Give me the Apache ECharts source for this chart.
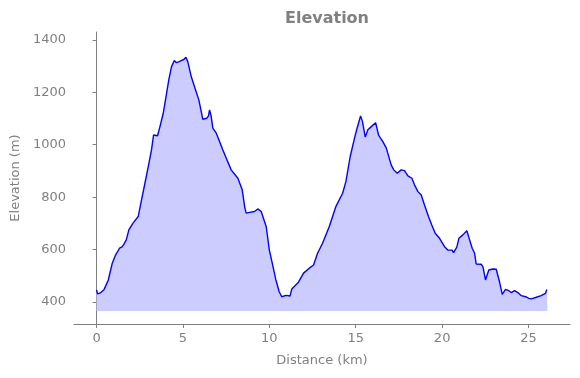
<!DOCTYPE html>
<html>
<head>
<meta charset="utf-8">
<script src="https://cdn.jsdelivr.net/npm/echarts@6/dist/echarts.min.js"></script>
<style>
  html, body { margin: 0; padding: 0; background: #fff; }
  #elev { width: 580px; height: 378px; }
</style>
</head>
<body>
<div id="elev"></div>
<script>
  // 距离 (km)
  const distance = [
    0.00, 0.06, 0.25, 0.44, 0.68, 0.91, 1.10, 1.33, 1.45, 1.56, 1.72, 1.87, 2.10, 2.41, 2.60, 2.80,
    3.03, 3.18, 3.30, 3.53, 3.67, 3.86, 3.99, 4.18, 4.34, 4.50, 4.62, 4.75, 4.90, 5.05, 5.17, 5.28,
    5.48, 5.73, 5.92, 6.15, 6.38, 6.48, 6.54, 6.63, 6.73, 6.93, 7.31, 7.79, 8.18, 8.43, 8.58, 8.66,
    8.85, 9.14, 9.33, 9.53, 9.82, 10.00, 10.13, 10.38, 10.57, 10.72, 10.96, 11.20, 11.30, 11.40, 11.67,
    11.98, 12.31, 12.56, 12.79, 13.08, 13.47, 13.85, 14.24, 14.43, 14.68, 14.95, 15.06, 15.16, 15.28,
    15.39, 15.55, 15.70, 15.90, 16.01, 16.15, 16.32, 16.57, 16.77, 17.05, 17.20, 17.40, 17.63, 17.82,
    18.02, 18.25, 18.40, 18.60, 18.79, 18.98, 19.21, 19.40, 19.60, 19.85, 20.14, 20.33, 20.58, 20.66,
    20.85, 20.97, 21.20, 21.43, 21.59, 21.74, 21.88, 21.97, 22.26, 22.36, 22.51, 22.70, 22.94, 23.13,
    23.32, 23.48, 23.67, 23.86, 24.00, 24.19, 24.38, 24.58, 24.83, 25.02, 25.16, 25.45, 25.73, 25.98,
    26.06, 26.10
  ]
  // 海拔 (m)
  const elevation = [
    446, 431, 436, 448, 484, 548, 579, 605, 609, 618, 637, 675, 700, 726, 789, 853,
    929, 980, 1037, 1034, 1069, 1120, 1171, 1247, 1298, 1321, 1313, 1316, 1321, 1325, 1334, 1317,
    1260, 1209, 1171, 1097, 1101, 1110, 1133, 1110, 1063, 1044, 980, 904, 872, 828, 760, 739,
    742, 745, 755, 745, 687, 598, 560, 484, 439, 420, 425, 423, 450, 455, 474,
    510, 529, 541, 586, 624, 688, 764, 815, 859, 955, 1031, 1059, 1082, 1110,
    1088, 1029, 1057, 1069, 1067, 1084, 1037, 1012, 987, 923, 904, 891, 904, 901,
    881, 872, 847, 821, 808, 770, 726, 694, 662, 643, 611, 598, 598, 588,
    609, 643, 656, 672, 637, 605, 586, 545, 544, 535, 484, 522, 526, 525,
    477, 429, 448, 443, 436, 443, 436, 424, 420, 414, 412, 418, 424, 433,
    448, 448
  ]
  const xTicks = [0, 5, 10, 15, 20, 25]
  const yTicks = [400, 600, 800, 1000, 1200, 1400]
  const fillBase = 366

  const gray = '#808080'
  const chart = echarts.init(document.getElementById('elev'))

  let lineData = distance.map((d, i) => [d, elevation[i]])

  const axisCommon = {
    type: 'value',
    axisLine: {show: true, lineStyle: {color: gray, width: 1}},
    axisTick: {show: true, length: 4, lineStyle: {color: gray}},
    axisLabel: {
      color: gray, fontSize: 13, fontFamily: 'DejaVu Sans', margin: 8,
      formatter: v => String(v)
    },
    splitLine: {show: false},
    nameLocation: 'middle',
    nameTextStyle: {color: gray, fontSize: 13, fontFamily: 'DejaVu Sans'}
  }

  const option = {
    animation: false,
    backgroundColor: '#fff',
    title: {
      text: 'Elevation',
      left: 322,
      top: 6,
      textAlign: 'center',
      textStyle: {color: gray, fontSize: 16, fontWeight: 'bold', fontFamily: 'DejaVu Sans'}
    },
    grid: {left: 74, right: 10, top: 32, bottom: 54},
    xAxis: Object.assign({}, axisCommon, {
      min: -1.305,
      max: 27.4,
      name: 'Distance (km)',
      nameGap: 30,
      axisTick: Object.assign({}, axisCommon.axisTick, {customValues: xTicks}),
      axisLabel: Object.assign({}, axisCommon.axisLabel, {customValues: xTicks})
    }),
    yAxis: Object.assign({}, axisCommon, {
      min: 316,
      max: 1430,
      name: 'Elevation (m)',
      nameGap: 51,
      axisTick: Object.assign({}, axisCommon.axisTick, {customValues: yTicks}),
      axisLabel: Object.assign({}, axisCommon.axisLabel, {customValues: yTicks})
    }),
    series: [{
      type: 'line',
      data: lineData,
      showSymbol: false,
      smooth: false,
      lineStyle: {color: '#0000ff', width: 1.4},
      areaStyle: {color: '#ccccff', opacity: 1, origin: fillBase}
    }]
  }
  chart.setOption(option)
</script>
</body>
</html>
